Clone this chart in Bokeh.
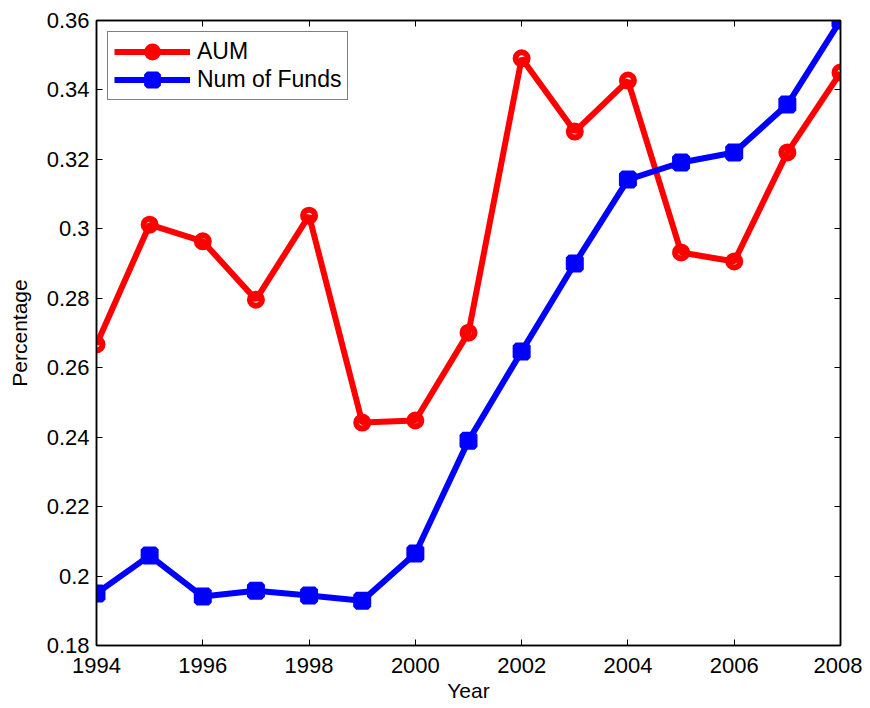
from bokeh.plotting import figure
from bokeh.models import LinearAxis, Range1d, FixedTicker, Legend, LegendItem
from bokeh.embed import file_html
from bokeh.resources import INLINE

years = [1994, 1995, 1996, 1997, 1998, 1999, 2000, 2001, 2002, 2003, 2004, 2005, 2006, 2007, 2008]
aum = [0.2667, 0.3012, 0.2964, 0.2796, 0.3038, 0.2442, 0.2448, 0.2701, 0.3491, 0.3280, 0.3427, 0.2932, 0.2906, 0.3220, 0.3450]
num_funds = [0.1950, 0.2059, 0.1941, 0.1958, 0.1944, 0.1929, 0.2065, 0.2390, 0.2647, 0.2900, 0.3142, 0.3191, 0.3220, 0.3358, 0.3600]
x_ticks = [1994, 1996, 1998, 2000, 2002, 2004, 2006, 2008]
y_ticks = [0.18, 0.20, 0.22, 0.24, 0.26, 0.28, 0.30, 0.32, 0.34, 0.36]
y_labels = {0.18: "0.18", 0.20: "0.2", 0.22: "0.22", 0.24: "0.24", 0.26: "0.26",
            0.28: "0.28", 0.30: "0.3", 0.32: "0.32", 0.34: "0.34", 0.36: "0.36"}

FONT = "Liberation Sans"

p = figure(width=862, height=708, output_backend="svg", toolbar_location=None,
           x_range=Range1d(1994, 2008), y_range=Range1d(0.18, 0.36),
           min_border_left=96, min_border_right=22, min_border_top=20, min_border_bottom=63,
           x_axis_label="Year", y_axis_label="Percentage")
p.grid.visible = False
p.outline_line_color = "black"
p.outline_line_width = 1.5
p.background_fill_color = "white"
p.border_fill_color = "white"

def style_axis(ax):
    ax.major_tick_in = 6
    ax.major_tick_out = 0
    ax.minor_tick_line_color = None
    ax.axis_line_color = "black"
    ax.axis_line_width = 1.5
    ax.major_tick_line_color = "black"
    ax.major_tick_line_width = 1
    ax.major_label_text_font = FONT
    ax.major_label_text_font_size = "22px"
    ax.major_label_text_color = "black"
    ax.axis_label_text_font = FONT
    ax.axis_label_text_font_size = "21px"
    ax.axis_label_text_font_style = "normal"
    ax.axis_label_text_color = "black"

p.xaxis.ticker = FixedTicker(ticks=x_ticks)
p.yaxis.ticker = FixedTicker(ticks=y_ticks)
p.yaxis.major_label_overrides = y_labels
style_axis(p.xaxis[0])
style_axis(p.yaxis[0])
p.xaxis.major_label_standoff = 12
p.xaxis.axis_label_standoff = 3
p.yaxis.major_label_standoff = 7
p.yaxis.axis_label_standoff = 13

top = LinearAxis(ticker=FixedTicker(ticks=x_ticks),
                 major_label_overrides={t: "" for t in x_ticks})
right = LinearAxis(ticker=FixedTicker(ticks=y_ticks),
                   major_label_overrides={t: "" for t in y_ticks})
style_axis(top)
style_axis(right)
top.major_label_standoff = 0
right.major_label_standoff = 0
p.add_layout(top, "above")
p.add_layout(right, "right")

r1 = p.line(years, aum, line_color="#ff0000", line_width=6)
m1 = p.scatter(years, aum, marker="circle", size=12, fill_color=None,
               line_color="#ff0000", line_width=6)
r2 = p.line(years, num_funds, line_color="#0000ff", line_width=6)
m2 = p.scatter(years, num_funds, marker="square", size=12, fill_color="#0000ff",
               line_color="#0000ff", line_width=6)

legend = Legend(items=[LegendItem(label="AUM", renderers=[r1, m1]),
                       LegendItem(label="Num of Funds", renderers=[r2, m2])],
                location="top_left")
legend.margin = 11
legend.padding = 6
legend.spacing = 1
legend.glyph_width = 76
legend.glyph_height = 27
legend.label_standoff = 7
legend.label_text_font = FONT
legend.label_text_font_size = "23px"
legend.label_text_color = "black"
legend.border_line_color = "black"
legend.border_line_width = 1.5
legend.background_fill_alpha = 1
p.add_layout(legend, "center")

open("out.html", "w").write(file_html(p, INLINE))
